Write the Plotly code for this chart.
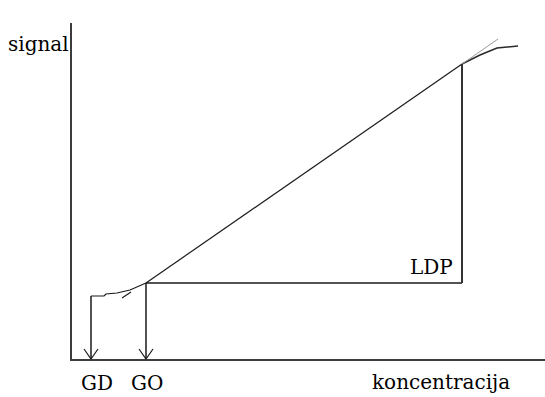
import plotly.graph_objects as go

# Calibration curve (schematic), arbitrary units
low_x = [19, 32, 34, 45, 58, 74]          # GD -> GO curved part
low_y = [63, 63, 65, 66, 69, 76]
lin_x = [74, 390]                         # linear range GO -> LDP
lin_y = [76, 295]
high_x = [390, 408, 425, 433, 446]        # saturation
high_y = [295, 304, 311, 312, 313]
ext_x = [390, 426]                        # gray extrapolation
ext_y = [295, 320]
stroke_x = [50, 59]                       # small stroke on curve
stroke_y = [61, 67]

GD = 19
GO = 74
LDP = 390
GD_top = 63
GO_level = 76
LDP_level = 295

X_MAX, Y_MAX = 473, 336
FONT = "DejaVu Serif"
LINE = dict(color="#1a1a1a", width=1.2)

fig = go.Figure()

def add_line(xs, ys, line=LINE):
    fig.add_trace(go.Scatter(x=xs, y=ys, mode="lines", line=line,
                             hoverinfo="skip", showlegend=False, cliponaxis=False))

add_line(low_x, low_y)
add_line(lin_x, lin_y)
add_line(high_x, high_y, dict(color="#2a2a2a", width=1.5))
add_line(ext_x, ext_y, dict(color="#9a9a9a", width=1))
add_line(stroke_x, stroke_y)

# LDP lines
add_line([GO, LDP], [GO_level, GO_level], dict(color="#1a1a1a", width=1.5))
add_line([LDP, LDP], [GO_level, LDP_level], dict(color="#333333", width=2))

# GD and GO arrows
for xv, top in [(GD, GD_top), (GO, GO_level)]:
    add_line([xv, xv], [top, 0], dict(color="#1a1a1a", width=1.5))
    add_line([xv - 7, xv, xv + 7], [10, 0, 10], dict(color="#1a1a1a", width=1.2))

# text labels (paper coordinates: fraction of plot area)
labels = [
    ("signal", -34, 315),
    ("koncentracija", 369, -23),
    ("LDP", 359, 92),
    ("GD", 25, -24),
    ("GO", 75, -24),
]
for text, xv, yv in labels:
    fig.add_annotation(x=xv / X_MAX, y=yv / Y_MAX, text=text, xref="paper", yref="paper",
                       showarrow=False, font=dict(family=FONT, size=20, color="black"),
                       xanchor="center", yanchor="middle")

fig.update_layout(
    autosize=False,
    width=545, height=397,
    margin=dict(l=72, r=0, t=23, b=38),
    paper_bgcolor="white", plot_bgcolor="white",
    xaxis=dict(range=[0, X_MAX], showgrid=False, zeroline=False, showticklabels=False,
               ticks="", showline=True, linecolor="#3c3c3c", linewidth=2, fixedrange=True),
    yaxis=dict(range=[0, Y_MAX], showgrid=False, zeroline=False, showticklabels=False,
               ticks="", showline=True, linecolor="#3c3c3c", linewidth=2, fixedrange=True),
)

fig.write_html("out.html", config={"displayModeBar": False, "responsive": False},
               post_script="document.documentElement.style.overflow='hidden';"
                           "document.body.style.margin='0';document.body.style.overflow='hidden';")
